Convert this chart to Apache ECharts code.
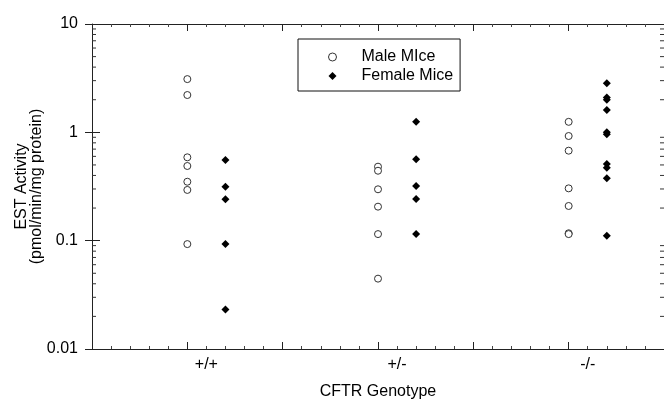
<!DOCTYPE html>
<html>
<head>
<meta charset="utf-8">
<script src="https://cdn.jsdelivr.net/npm/echarts@6/dist/echarts.min.js"></script>
<style>
html,body{margin:0;padding:0;background:#fff;overflow:hidden;}
#chart{width:664px;height:401px;}
</style>
</head>
<body>
<div id="chart"></div>
<script>
// ---- data ----
const genotypes = ['+/+', '+/-', '-/-'];
const maleMice = [
  [3.10, 2.21, 0.588, 0.489, 0.350, 0.294, 0.093],
  [0.482, 0.442, 0.298, 0.206, 0.115, 0.0446],
  [1.25, 0.925, 0.677, 0.304, 0.209, 0.117, 0.115]
];
const femaleMice = [
  [0.555, 0.315, 0.241, 0.093, 0.0232],
  [1.25, 0.564, 0.320, 0.243, 0.115],
  [2.84, 2.10, 2.00, 1.61, 1.00, 0.96, 0.51, 0.47, 0.377, 0.111]
];
const seriesNames = ['Male MIce', 'Female Mice'];
const yTickLabels = ['0.01', '0.1', '1', '10'];
const decades = [0.01, 0.1, 1];
const minorMultipliers = [2, 3, 4, 5, 6, 7, 8, 9];

// ---- build ----
const FONT = '"Liberation Sans", Arial, Helvetica, sans-serif';
const groupX = i => 1 + 2 * i;          // male column of group i
const femaleOffset = 0.4;
const labelOffset = 0.2;

const maleData = [];
maleMice.forEach((arr, i) => arr.forEach(v => maleData.push([groupX(i), v])));
const femaleData = [];
femaleMice.forEach((arr, i) => arr.forEach(v => femaleData.push([groupX(i) + femaleOffset, v])));

const minorTickData = [];
decades.forEach(d => minorMultipliers.forEach(m => minorTickData.push([0, Number((d * m).toPrecision(3))])));

const labelAt = {};
genotypes.forEach((g, i) => { labelAt[(groupX(i) + labelOffset).toFixed(1)] = g; });

const axisLineStyle = { color: '#222', width: 1 };

const baseX = {
  type: 'value', min: 0, max: 6, interval: 1,
  splitLine: { show: false },
  axisLine: { show: true, onZero: false, lineStyle: axisLineStyle },
  axisTick: { show: true, inside: true, length: 7, lineStyle: { color: '#222' } },
  minorTick: { show: true, splitNumber: 5, length: 3, lineStyle: { color: '#444' } },
  axisLabel: { show: false }
};

const chart = echarts.init(document.getElementById('chart'), null, { renderer: 'canvas' });
chart.setOption({
  animation: false,
  backgroundColor: '#fff',
  grid: { left: 92, right: 0, top: 24, bottom: 52, containLabel: false, outerBoundsMode: 'none' },
  legend: {
    orient: 'vertical',
    left: 298, top: 39,
    padding: [10, 7, 7, 30],
    itemGap: 3,
    itemWidth: 8, itemHeight: 8,
    borderColor: '#111', borderWidth: 1,
    textStyle: { fontFamily: FONT, fontSize: 16, color: '#000', padding: [0, 0, 0, 20] },
    data: [
      { name: seriesNames[0], icon: 'circle', itemStyle: { color: '#fff', borderColor: '#333', borderWidth: 1 } },
      { name: seriesNames[1], icon: 'diamond', itemStyle: { color: '#000' } }
    ]
  },
  xAxis: [
    Object.assign({}, baseX, {
      position: 'bottom',
      name: 'CFTR Genotype', nameLocation: 'middle', nameGap: 35, nameMoveOverlap: false,
      nameTextStyle: { fontFamily: FONT, fontSize: 16, color: '#000' }
    }),
    {
      type: 'value', min: 0, max: 6, interval: 0.2, position: 'bottom',
      splitLine: { show: false }, axisLine: { show: false }, axisTick: { show: false },
      axisLabel: {
        show: true, margin: 8, fontFamily: FONT, fontSize: 16, color: '#000',
        formatter: v => labelAt[Number(v).toFixed(1)] || ''
      }
    },
    Object.assign({}, baseX, { position: 'top' })
  ],
  yAxis: [
    {
      type: 'log', logBase: 10, min: 0.01, max: 10, position: 'left',
      splitLine: { show: false },
      axisLine: { show: true, onZero: false, lineStyle: axisLineStyle },
      axisTick: { show: true, inside: true, length: 8, lineStyle: { color: '#222' } },
      axisLabel: {
        margin: 14, fontFamily: FONT, fontSize: 16, color: '#000',
        formatter: v => { const s = String(Number(Number(v).toPrecision(2))); return yTickLabels.includes(s) ? s : ''; }
      },
      name: 'EST Activity\n(pmol/min/mg protein)', nameLocation: 'middle', nameGap: 48, nameRotate: 90,
      nameMoveOverlap: false,
      nameTextStyle: { fontFamily: FONT, fontSize: 16, color: '#000', lineHeight: 15 }
    },
    {
      type: 'log', logBase: 10, min: 0.01, max: 10, position: 'right',
      splitLine: { show: false },
      axisLine: { show: false },
      axisTick: { show: true, inside: true, length: 7, lineStyle: { color: '#222' } },
      axisLabel: { show: false }
    }
  ],
  series: [
    {
      name: seriesNames[0], type: 'scatter', xAxisIndex: 0, yAxisIndex: 0,
      symbol: 'circle', symbolSize: 7,
      itemStyle: { color: '#fff', borderColor: '#333', borderWidth: 1, opacity: 1 },
      data: maleData, z: 3
    },
    {
      name: seriesNames[1], type: 'scatter', xAxisIndex: 0, yAxisIndex: 0,
      symbol: 'diamond', symbolSize: 8,
      itemStyle: { color: '#000', opacity: 1 },
      data: femaleData, z: 3
    },
    {
      name: 'minorTicks', type: 'custom', xAxisIndex: 0, yAxisIndex: 0,
      silent: true, clip: false, z: 5,
      data: minorTickData,
      renderItem: (params, api) => {
        const v = api.value(1);
        const pL = api.coord([0, v]);
        const pR = api.coord([6, v]);
        const st = { stroke: '#333', lineWidth: 1 };
        return {
          type: 'group',
          children: [
            { type: 'line', shape: { x1: pL[0], y1: pL[1], x2: pL[0] + 4, y2: pL[1] }, style: st },
            { type: 'line', shape: { x1: pR[0] - 4, y1: pR[1], x2: pR[0], y2: pR[1] }, style: st }
          ]
        };
      }
    }
  ]
});
</script>
</body>
</html>
